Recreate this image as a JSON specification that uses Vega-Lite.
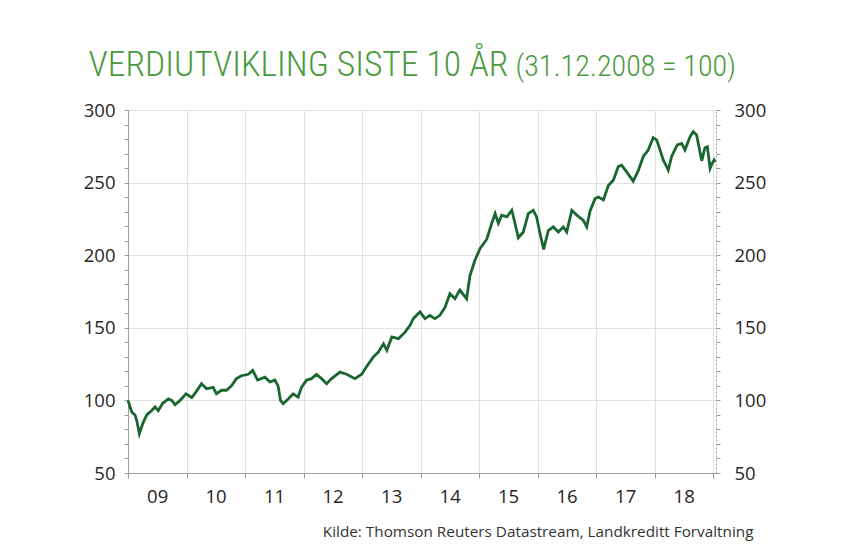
{
  "$schema": "https://vega.github.io/schema/vega-lite/v6.json",
  "width": 588,
  "height": 363,
  "autosize": "none",
  "padding": {"left": 128, "top": 110, "right": 128, "bottom": 73},
  "background": "white",
  "data": {"values": [
    {"date": "2008-12-31", "value": 100},
    {"date": "2009-01-23", "value": 92},
    {"date": "2009-02-13", "value": 90},
    {"date": "2009-02-24", "value": 86},
    {"date": "2009-03-12", "value": 77},
    {"date": "2009-04-02", "value": 84},
    {"date": "2009-04-27", "value": 90},
    {"date": "2009-05-28", "value": 93},
    {"date": "2009-06-18", "value": 95.5},
    {"date": "2009-07-08", "value": 93},
    {"date": "2009-08-05", "value": 98},
    {"date": "2009-09-09", "value": 101},
    {"date": "2009-09-30", "value": 100},
    {"date": "2009-10-21", "value": 97},
    {"date": "2009-11-21", "value": 100},
    {"date": "2009-12-28", "value": 104.6},
    {"date": "2010-02-02", "value": 102},
    {"date": "2010-02-28", "value": 105.7},
    {"date": "2010-04-04", "value": 111.5},
    {"date": "2010-05-05", "value": 108},
    {"date": "2010-06-15", "value": 109},
    {"date": "2010-07-06", "value": 104.6},
    {"date": "2010-08-07", "value": 107},
    {"date": "2010-09-07", "value": 107},
    {"date": "2010-10-08", "value": 110},
    {"date": "2010-11-08", "value": 115},
    {"date": "2010-12-09", "value": 117},
    {"date": "2011-01-21", "value": 118},
    {"date": "2011-02-18", "value": 120.7},
    {"date": "2011-03-20", "value": 114},
    {"date": "2011-05-05", "value": 116},
    {"date": "2011-06-05", "value": 112.7},
    {"date": "2011-07-06", "value": 114},
    {"date": "2011-07-26", "value": 110},
    {"date": "2011-08-10", "value": 100},
    {"date": "2011-08-27", "value": 97.7},
    {"date": "2011-09-27", "value": 101},
    {"date": "2011-10-28", "value": 104.6},
    {"date": "2011-11-28", "value": 102.3},
    {"date": "2011-12-19", "value": 109},
    {"date": "2012-01-20", "value": 114},
    {"date": "2012-02-20", "value": 115},
    {"date": "2012-03-22", "value": 118},
    {"date": "2012-04-22", "value": 115},
    {"date": "2012-05-24", "value": 111.5},
    {"date": "2012-06-24", "value": 115},
    {"date": "2012-08-15", "value": 119.5},
    {"date": "2012-09-26", "value": 118},
    {"date": "2012-11-17", "value": 115},
    {"date": "2012-12-29", "value": 118},
    {"date": "2013-01-30", "value": 123.5},
    {"date": "2013-03-12", "value": 130},
    {"date": "2013-04-12", "value": 133.3},
    {"date": "2013-05-14", "value": 139},
    {"date": "2013-06-04", "value": 134.5},
    {"date": "2013-07-05", "value": 143.7},
    {"date": "2013-08-15", "value": 142.5},
    {"date": "2013-09-26", "value": 147},
    {"date": "2013-10-27", "value": 151.7},
    {"date": "2013-11-16", "value": 156.3},
    {"date": "2013-12-28", "value": 161},
    {"date": "2014-01-28", "value": 156.3},
    {"date": "2014-02-28", "value": 158.6},
    {"date": "2014-03-31", "value": 156.3},
    {"date": "2014-05-01", "value": 158.6},
    {"date": "2014-06-02", "value": 164},
    {"date": "2014-07-03", "value": 173.5},
    {"date": "2014-08-03", "value": 170},
    {"date": "2014-09-03", "value": 176},
    {"date": "2014-10-15", "value": 170},
    {"date": "2014-11-05", "value": 186},
    {"date": "2014-12-06", "value": 196.5},
    {"date": "2015-01-07", "value": 204.6},
    {"date": "2015-02-18", "value": 211},
    {"date": "2015-03-21", "value": 222},
    {"date": "2015-04-11", "value": 228.7},
    {"date": "2015-05-01", "value": 222},
    {"date": "2015-05-22", "value": 227.6},
    {"date": "2015-06-23", "value": 226.4},
    {"date": "2015-07-24", "value": 231},
    {"date": "2015-08-13", "value": 222},
    {"date": "2015-09-03", "value": 212},
    {"date": "2015-10-04", "value": 216},
    {"date": "2015-11-04", "value": 228.7},
    {"date": "2015-12-05", "value": 231},
    {"date": "2015-12-26", "value": 226.4},
    {"date": "2016-01-16", "value": 215},
    {"date": "2016-02-08", "value": 204},
    {"date": "2016-03-08", "value": 217},
    {"date": "2016-04-08", "value": 219.5},
    {"date": "2016-05-10", "value": 216},
    {"date": "2016-06-10", "value": 219.5},
    {"date": "2016-07-01", "value": 216},
    {"date": "2016-08-02", "value": 231},
    {"date": "2016-09-02", "value": 227.6},
    {"date": "2016-10-13", "value": 224},
    {"date": "2016-11-03", "value": 219.5},
    {"date": "2016-11-24", "value": 230.5},
    {"date": "2016-12-25", "value": 239},
    {"date": "2017-01-15", "value": 240},
    {"date": "2017-02-15", "value": 238},
    {"date": "2017-03-18", "value": 248},
    {"date": "2017-04-18", "value": 251.7},
    {"date": "2017-05-19", "value": 261},
    {"date": "2017-06-09", "value": 262},
    {"date": "2017-07-10", "value": 257.4},
    {"date": "2017-08-20", "value": 251},
    {"date": "2017-09-20", "value": 258},
    {"date": "2017-10-22", "value": 268},
    {"date": "2017-11-22", "value": 272.4},
    {"date": "2017-12-23", "value": 281},
    {"date": "2018-01-14", "value": 279.3},
    {"date": "2018-02-04", "value": 272.4},
    {"date": "2018-02-24", "value": 265.5},
    {"date": "2018-03-17", "value": 261},
    {"date": "2018-03-27", "value": 258.6},
    {"date": "2018-04-17", "value": 268},
    {"date": "2018-05-22", "value": 275.9},
    {"date": "2018-06-19", "value": 277},
    {"date": "2018-07-09", "value": 272.4},
    {"date": "2018-08-10", "value": 281.6},
    {"date": "2018-08-30", "value": 285},
    {"date": "2018-09-20", "value": 282.8},
    {"date": "2018-10-22", "value": 265},
    {"date": "2018-11-11", "value": 274},
    {"date": "2018-11-26", "value": 274.7},
    {"date": "2018-12-13", "value": 259.8},
    {"date": "2018-12-25", "value": 263},
    {"date": "2019-01-07", "value": 265.5},
    {"date": "2019-01-13", "value": 264}
  ]},
  "layer": [
    {
      "mark": {"type": "line", "color": "#1a6630", "strokeWidth": 2.8, "clip": false},
      "encoding": {
        "x": {
          "field": "date", "type": "temporal",
          "scale": {"domain": [{"year": 2008, "month": 12, "date": 31}, {"year": 2019, "month": 1, "date": 19}], "nice": false},
          "axis": {
            "values": [
              {"year": 2009, "month": 1, "date": 1}, {"year": 2009, "month": 4, "date": 1}, {"year": 2009, "month": 7, "date": 1}, {"year": 2009, "month": 10, "date": 1},
              {"year": 2010, "month": 1, "date": 1}, {"year": 2010, "month": 4, "date": 1}, {"year": 2010, "month": 7, "date": 1}, {"year": 2010, "month": 10, "date": 1},
              {"year": 2011, "month": 1, "date": 1}, {"year": 2011, "month": 4, "date": 1}, {"year": 2011, "month": 7, "date": 1}, {"year": 2011, "month": 10, "date": 1},
              {"year": 2012, "month": 1, "date": 1}, {"year": 2012, "month": 4, "date": 1}, {"year": 2012, "month": 7, "date": 1}, {"year": 2012, "month": 10, "date": 1},
              {"year": 2013, "month": 1, "date": 1}, {"year": 2013, "month": 4, "date": 1}, {"year": 2013, "month": 7, "date": 1}, {"year": 2013, "month": 10, "date": 1},
              {"year": 2014, "month": 1, "date": 1}, {"year": 2014, "month": 4, "date": 1}, {"year": 2014, "month": 7, "date": 1}, {"year": 2014, "month": 10, "date": 1},
              {"year": 2015, "month": 1, "date": 1}, {"year": 2015, "month": 4, "date": 1}, {"year": 2015, "month": 7, "date": 1}, {"year": 2015, "month": 10, "date": 1},
              {"year": 2016, "month": 1, "date": 1}, {"year": 2016, "month": 4, "date": 1}, {"year": 2016, "month": 7, "date": 1}, {"year": 2016, "month": 10, "date": 1},
              {"year": 2017, "month": 1, "date": 1}, {"year": 2017, "month": 4, "date": 1}, {"year": 2017, "month": 7, "date": 1}, {"year": 2017, "month": 10, "date": 1},
              {"year": 2018, "month": 1, "date": 1}, {"year": 2018, "month": 4, "date": 1}, {"year": 2018, "month": 7, "date": 1}, {"year": 2018, "month": 10, "date": 1},
              {"year": 2019, "month": 1, "date": 1}
            ],
            "labelExpr": "month(datum.value) === 0 && year(datum.value) < 2019 ? timeFormat(datum.value, '%y') : ''",
            "labelOffset": 29,
            "labelBound": false,
            "labelFlush": false,
            "labelOverlap": false,
            "labelPadding": 9,
            "labelFont": "Open Sans",
            "labelFontSize": 18.5,
            "labelColor": "#262626",
            "tickSize": {"condition": {"test": "month(datum.value) === 0", "value": 5}, "value": 3},
            "tickColor": "#9a9a9a",
            "domainColor": "#a0a0a0",
            "grid": true,
            "gridColor": "#e2e2e2",
            "gridOpacity": {"condition": {"test": "month(datum.value) === 0", "value": 1}, "value": 0},
            "title": "Kilde: Thomson Reuters Datastream, Landkreditt Forvaltning",
            "titleX": 625,
            "titleY": 63,
            "titleAnchor": null,
            "titleAlign": "right",
            "titleBaseline": "alphabetic",
            "titleFont": "Open Sans",
            "titleFontSize": 15.3,
            "titleFontWeight": "normal",
            "titleColor": "#333333"
          }
        },
        "y": {
          "field": "value", "type": "quantitative",
          "scale": {"domain": [50, 300], "nice": false, "zero": false},
          "axis": {
            "orient": "left",
            "values": [50, 60, 70, 80, 90, 100, 110, 120, 130, 140, 150, 160, 170, 180, 190, 200, 210, 220, 230, 240, 250, 260, 270, 280, 290, 300],
            "labelExpr": "datum.value % 50 === 0 ? datum.label : ''",
            "labelPadding": 9,
            "labelFont": "Open Sans",
            "labelFontSize": 18.5,
            "labelColor": "#262626",
            "tickSize": 4,
            "tickColor": "#9a9a9a",
            "domainColor": "#a0a0a0",
            "grid": true,
            "gridColor": "#e2e2e2",
            "gridOpacity": {"condition": {"test": "datum.value % 50 === 0", "value": 1}, "value": 0},
            "title": "VERDIUTVIKLING SISTE 10 ÅR",
            "titleAngle": 0,
            "titleX": -40,
            "titleY": -35,
            "titleAlign": "left",
            "titleBaseline": "alphabetic",
            "titleFont": "'Roboto Condensed', 'DejaVu Sans Condensed', 'Liberation Sans Narrow', sans-serif",
            "titleFontSize": 35.6,
            "titleFontWeight": 300,
            "titleColor": "#4a9a3e"
          }
        }
      }
    },
    {
      "mark": {"type": "line", "opacity": 0},
      "encoding": {
        "x": {"field": "date", "type": "temporal"},
        "y": {
          "field": "value", "type": "quantitative",
          "axis": {
            "orient": "right",
            "values": [50, 60, 70, 80, 90, 100, 110, 120, 130, 140, 150, 160, 170, 180, 190, 200, 210, 220, 230, 240, 250, 260, 270, 280, 290, 300],
            "labelExpr": "datum.value % 50 === 0 ? datum.label : ''",
            "labelPadding": 14,
            "labelFont": "Open Sans",
            "labelFontSize": 18.5,
            "labelColor": "#262626",
            "tickSize": 4,
            "tickColor": "#9a9a9a",
            "domainColor": "#a0a0a0",
            "domainDash": [2, 2],
            "grid": false,
            "title": "(31.12.2008 = 100)",
            "titleAngle": 0,
            "titleX": -201,
            "titleY": -35,
            "titleAlign": "left",
            "titleBaseline": "alphabetic",
            "titleFont": "'Roboto Condensed', 'DejaVu Sans Condensed', 'Liberation Sans Narrow', sans-serif",
            "titleFontSize": 30,
            "titleFontWeight": 300,
            "titleColor": "#4a9a3e"
          }
        }
      }
    }
  ],
  "resolve": {"axis": {"y": "independent"}},
  "config": {"view": {"stroke": null}}
}
